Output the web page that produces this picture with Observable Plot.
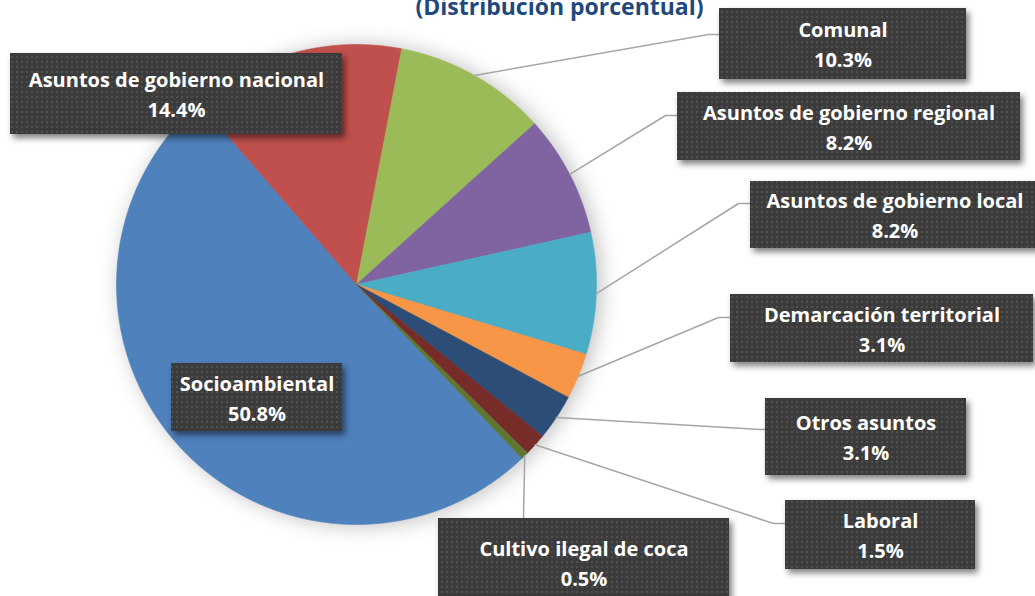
<!DOCTYPE html>
<html><head><meta charset="utf-8">
<script src="https://cdn.jsdelivr.net/npm/d3@7"></script>
<script src="https://cdn.jsdelivr.net/npm/@observablehq/plot@0.6"></script>
<style>html,body{margin:0;padding:0;background:#fff;overflow:hidden}</style>
</head><body><div id="chart"></div>
<script>
// ---- data ----
const categories = ["Socioambiental","Asuntos de gobierno nacional","Comunal","Asuntos de gobierno regional","Asuntos de gobierno local","Demarcación territorial","Otros asuntos","Laboral","Cultivo ilegal de coca"];
const shares = [50.8, 14.4, 10.3, 8.2, 8.2, 3.1, 3.1, 1.5, 0.5];
const shareLabels = ["50.8%","14.4%","10.3%","8.2%","8.2%","3.1%","3.1%","1.5%","0.5%"];
const title = "(Distribución porcentual)";

// ---- styles ----
const colors = ["#4F81BD","#C0504D","#9BBB59","#8064A2","#4BACC6","#F79646","#2C4D75","#772C2A","#5F7530"];

// ---- layout ----
const W = 1035, H = 596;
const pieGeom = {cx: 356, cy: 284, r: 240, startDeg: -223.6};
const boxes = [
  {x1: 171, x2: 342, y1: 363, y2: 431},
  {x1: 10, x2: 342, y1: 53, y2: 134},
  {x1: 719, x2: 966, y1: 8, y2: 79},
  {x1: 677, x2: 1020, y1: 92, y2: 160},
  {x1: 750, x2: 1039, y1: 181, y2: 248},
  {x1: 730, x2: 1033, y1: 294, y2: 362},
  {x1: 765, x2: 966, y1: 398, y2: 475},
  {x1: 785, x2: 975, y1: 500, y2: 569},
  {x1: 438, x2: 729, y1: 518, y2: 606}
];
// elbow point and end x for leader lines (null = no leader)
const leaders = [
  null, null,
  {ex: 708, ey: 34, tx: 719},
  {ex: 665, ey: 115, tx: 677},
  {ex: 738, ey: 203, tx: 751},
  {ex: 718, ey: 317, tx: 730},
  {ex: 760, ey: 429, tx: 765},
  {ex: 773, ey: 523, tx: 785},
  {ex: 523, ey: 518, tx: 523}
];

const {cx, cy, r} = pieGeom;
const a0 = pieGeom.startDeg * Math.PI / 180;
const arcs = d3.pie().sort(null).value(d => d).startAngle(a0).endAngle(a0 + 2 * Math.PI)(shares);

const slicePts = arcs.flatMap((p, i) => {
  const pts = [{k: i, x: cx, y: cy}];
  const n = Math.max(2, Math.ceil((p.endAngle - p.startAngle) / 0.004));
  for (let j = 0; j <= n; j++) {
    const a = p.startAngle + (p.endAngle - p.startAngle) * j / n;
    pts.push({k: i, x: cx + r * Math.sin(a), y: cy - r * Math.cos(a)});
  }
  pts.push({k: i, x: cx, y: cy});
  return pts;
});

const leaderPts = arcs.flatMap((p, i) => {
  const L = leaders[i];
  if (!L) return [];
  const m = (p.startAngle + p.endAngle) / 2;
  return [
    {k: i, x: cx + r * Math.sin(m), y: cy - r * Math.cos(m)},
    {k: i, x: L.ex, y: L.ey},
    {k: i, x: L.tx, y: L.ey}
  ];
});

const labelData = categories.map((c, i) => ({
  text: c + "\n" + shareLabels[i],
  x: (boxes[i].x1 + boxes[i].x2) / 2,
  y: (boxes[i].y1 + boxes[i].y2) / 2 - 1.5,
  ...boxes[i]
}));

const FONT = "'Open Sans', Lato, sans-serif";

const chart = Plot.plot({
  width: W, height: H,
  margin: 0,
  x: {domain: [0, W], range: [0, W], axis: null},
  y: {domain: [0, H], range: [0, H], axis: null},
  color: {type: "identity"},
  style: {fontFamily: FONT, background: "#fff", overflow: "hidden"},
  marks: [
    Plot.line(slicePts, {x: "x", y: "y", z: "k", fill: d => colors[d.k], stroke: d => colors[d.k], strokeWidth: 0.6}),
    Plot.line(leaderPts, {x: "x", y: "y", z: "k", stroke: "#A6A6A6", strokeWidth: 1.5}),
    Plot.rect(labelData, {x1: "x1", x2: "x2", y1: "y1", y2: "y2", fill: "url(#dotpat)"}),
    Plot.text(labelData, {x: "x", y: "y", text: "text", fill: "white", fontWeight: "bold", fontSize: 20, lineHeight: 30 / 20, textAnchor: "middle", lineAnchor: "middle"}),
    Plot.text([title], {x: () => 559, y: () => 14, text: d => d, fill: "#1F497D", fontWeight: "bold", fontSize: 23, textAnchor: "middle", lineAnchor: "bottom"})
  ]
});

const svg = d3.select(chart);
const defs = svg.insert("defs", ":first-child");
const pat = defs.append("pattern").attr("id", "dotpat").attr("patternUnits", "userSpaceOnUse")
  .attr("width", 5).attr("height", 5);
pat.append("rect").attr("width", 5).attr("height", 5).attr("fill", "#3B3B3B");
pat.append("rect").attr("x", 1).attr("y", 1).attr("width", 2).attr("height", 2).attr("fill", "#505050");
const lineGroups = svg.selectAll('g[aria-label="line"]').nodes();
if (lineGroups[0]) d3.select(lineGroups[0]).style("filter", "drop-shadow(4px 1px 10px rgba(0,0,0,0.25))");
svg.selectAll('g[aria-label="rect"]').style("filter", "drop-shadow(3px 4px 3px rgba(0,0,0,0.5))");

document.getElementById("chart").appendChild(chart);
</script></body></html>
